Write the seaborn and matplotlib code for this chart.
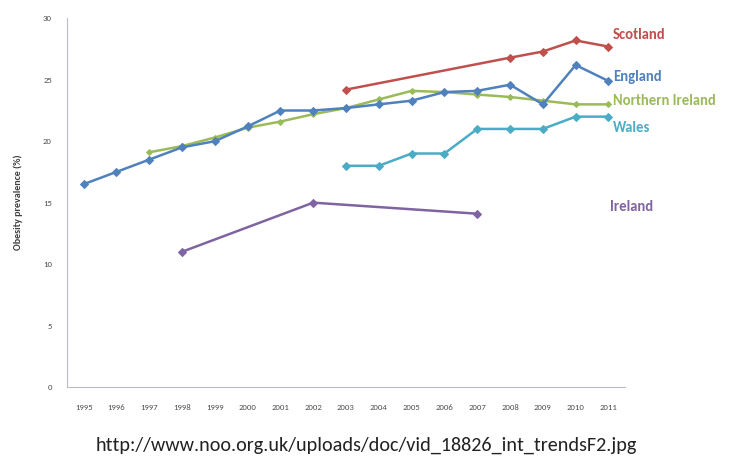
import numpy as np
import pandas as pd
import matplotlib
matplotlib.use("Agg")
import matplotlib.pyplot as plt
import seaborn as sns

# data
england_years = [1995, 1996, 1997, 1998, 1999, 2000, 2001, 2002, 2003, 2004, 2005, 2006, 2007, 2008, 2009, 2010, 2011]
england_vals = [16.5, 17.5, 18.5, 19.5, 20.0, 21.2, 22.5, 22.5, 22.7, 23.0, 23.3, 24.0, 24.1, 24.6, 23.0, 26.2, 24.9]

scotland_years = [2003, 2008, 2009, 2010, 2011]
scotland_vals = [24.2, 26.8, 27.3, 28.2, 27.7]

ni_years = [1997, 1998, 1999, 2000, 2001, 2002, 2003, 2004, 2005, 2006, 2007, 2008, 2009, 2010, 2011]
ni_vals = [19.1, 19.6, 20.3, 21.1, 21.6, 22.2, 22.7, 23.4, 24.1, 24.0, 23.8, 23.6, 23.3, 23.0, 23.0]

wales_years = [2003, 2004, 2005, 2006, 2007, 2008, 2009, 2010, 2011]
wales_vals = [18.0, 18.0, 19.0, 19.0, 21.0, 21.0, 21.0, 22.0, 22.0]

ireland_years = [1998, 2002, 2007]
ireland_vals = [11.0, 15.0, 14.1]

series = [
    ("Scotland", scotland_years, scotland_vals, "#c0504d", 35),
    ("England", england_years, england_vals, "#4f81bd", 77),
    ("Northern Ireland", ni_years, ni_vals, "#9bbb59", 101),
    ("Wales", wales_years, wales_vals, "#4bacc6", 128),
    ("Ireland", ireland_years, ireland_vals, "#8064a2", 207),
]

sns.set_style("white")
plt.rcParams['font.family'] = ['Carlito', 'Open Sans', 'DejaVu Sans']

fig = plt.figure(figsize=(7.3, 4.59), dpi=100)
ax = fig.add_axes([0.092, 0.157, 0.764, 0.803])

# green first so the blue line sits on top like the original
order = ["Northern Ireland", "Ireland", "Wales", "Scotland", "England"]
lookup = {s[0]: s for s in series}
for name in order:
    _, yrs, vals, col, _ = lookup[name]
    df = pd.DataFrame({"year": yrs, "value": vals})
    ms = 3 if name == "Northern Ireland" else 4.5
    sns.lineplot(data=df, x="year", y="value", ax=ax, color=col, lw=1.8,
                 marker="D", markersize=ms, markeredgecolor=col)

ax.set_xlim(1994.5, 2011.5)
ax.set_ylim(0, 30)
ax.set_xticks(range(1995, 2012))
ax.set_yticks(range(0, 31, 5))
ax.tick_params(axis="both", labelsize=6.3, colors="#505050", length=2, width=0.5)
ax.tick_params(axis="y", pad=9)
ax.tick_params(axis="x", pad=12, length=0)
ax.set_xlabel("")
ax.set_ylabel("Obesity prevalence (%)", fontsize=7.2, color="#404040",
              labelpad=14, fontweight="bold")
for s in ["top", "right"]:
    ax.spines[s].set_visible(False)
for s in ["left", "bottom"]:
    ax.spines[s].set_color("#b8bcc4")
    ax.spines[s].set_linewidth(0.8)

# series names on the right
for name, yrs, vals, col, ypix in series:
    xpix = 610 if name == "Ireland" else 613
    fig.text(xpix / 730, 1 - ypix / 459, name, color=col, fontsize=10.5,
             fontweight="bold", va="center", ha="left")

fig.text(366 / 730, 1 - 445 / 459,
         "http://www.noo.org.uk/uploads/doc/vid_18826_int_trendsF2.jpg",
         fontsize=14.5, color="#222222", ha="center", va="center")

fig.savefig("out.png", dpi=100)
